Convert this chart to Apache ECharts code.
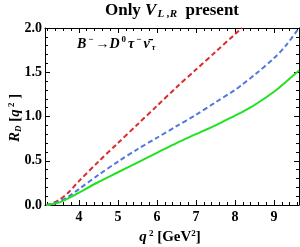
<!DOCTYPE html>
<html><head><meta charset="utf-8">
<script src="https://cdn.jsdelivr.net/npm/echarts@6/dist/echarts.min.js"></script>
<style>html,body{margin:0;padding:0;background:#fff}#c{width:300px;height:247px}</style>
</head><body><div id="c"></div>
<script>
const q2 = [3.16, 3.3, 3.5, 3.75, 4, 4.5, 5, 5.5, 6, 6.5, 7, 7.5, 8, 8.18, 8.5, 9, 9.3, 9.64];
const redVals   = [0, 0.015, 0.06, 0.15, 0.27, 0.49, 0.70, 0.91, 1.12, 1.33, 1.53, 1.73, 1.93, 2.0, null, null, null, null];
const blueVals  = [0, 0.01, 0.04, 0.10, 0.18, 0.34, 0.49, 0.63, 0.76, 0.89, 1.02, 1.16, 1.30, 1.36, 1.47, 1.66, 1.80, 2.0];
const greenVals = [0, 0.008, 0.03, 0.08, 0.14, 0.26, 0.37, 0.48, 0.59, 0.70, 0.80, 0.90, 1.01, 1.05, 1.13, 1.28, 1.39, 1.52];
const xTicks = [4, 5, 6, 7, 8, 9];
const yTicks = [0.0, 0.5, 1.0, 1.5, 2.0];
const xMin = 3.13, xMax = 9.64;

const minorX = [];
for (let v = 3.2; v <= xMax + 1e-9; v += 0.2) {
  const r = Math.round(v * 10) / 10;
  if (Math.abs(r - Math.round(r)) > 1e-6) minorX.push(r);
}
function pairs(vals) { const o = []; q2.forEach((x, i) => { if (vals[i] !== null) o.push([x, vals[i]]); }); return o; }

const font = 'Liberation Serif';
const chart = echarts.init(document.getElementById('c'), null, {renderer: 'canvas'});
const baseX = (pos, show, custom, len, label) => ({
  type: 'value', min: xMin, max: xMax, position: pos,
  axisLine: {show: show, lineStyle: {color: '#000', width: 1}},
  splitLine: {show: false},
  axisTick: {show: true, inside: true, length: len, customValues: custom, lineStyle: {color: '#000', width: 1}},
  axisLabel: label ? {show: true, customValues: xTicks, fontFamily: font, fontWeight: 'bold', fontSize: 14, color: '#000', margin: 5, formatter: v => String(v)} : {show: false}
});
const baseY = (pos, label) => ({
  type: 'value', min: 0, max: 2, interval: 0.5, position: pos,
  axisLine: {show: true, lineStyle: {color: '#000', width: 1}},
  splitLine: {show: false},
  axisTick: {show: true, inside: true, length: 5, lineStyle: {color: '#000'}},
  minorTick: {show: true, splitNumber: 5, length: 3, lineStyle: {color: '#000'}},
  axisLabel: label ? {show: true, fontFamily: font, fontWeight: 'bold', fontSize: 14, color: '#000', margin: 3, formatter: v => v.toFixed(1)} : {show: false}
});
chart.setOption({
  animation: false,
  backgroundColor: '#fff',
  grid: {left: 45, right: 1, top: 28, bottom: 42, containLabel: false},
  xAxis: [
    baseX('bottom', true, xTicks, 5, true),
    baseX('bottom', false, minorX, 3, false),
    baseX('top', true, xTicks, 5, false),
    baseX('top', false, minorX, 3, false)
  ],
  yAxis: [ baseY('left', true), baseY('right', false) ],
  series: [
    {type: 'line', data: pairs(redVals), smooth: 0.3, symbol: 'none', lineStyle: {color: '#dd2a2a', width: 2, type: [5, 3]}},
    {type: 'line', data: pairs(blueVals), smooth: 0.3, symbol: 'none', lineStyle: {color: '#4f78e0', width: 2, type: [5, 3]}},
    {type: 'line', data: pairs(greenVals), smooth: 0.3, symbol: 'none', lineStyle: {color: '#22e022', width: 2}}
  ],
  graphic: [
    {type: 'text', x: 172, y: 11, style: {
      text: '{b|Only }{i|V}{s|L ,R}{b|  present}', textAlign: 'center', textVerticalAlign: 'middle',
      rich: {
        b: {fontFamily: font, fontWeight: 'bold', fontSize: 17, fill: '#000'},
        i: {fontFamily: font, fontWeight: 'bold', fontStyle: 'italic', fontSize: 17, fill: '#000'},
        s: {fontFamily: font, fontWeight: 'bold', fontStyle: 'italic', fontSize: 11, fill: '#000', padding: [7, 0, 0, 1]}
      }}},
    {type: 'text', x: 77, y: 44, style: {
      text: '{m|B}{p|−}{m|→D}{p|0}{m|τ}{p|−}{m|ν̄}{q|τ}', textVerticalAlign: 'middle',
      rich: {
        m: {fontFamily: font, fontWeight: 'bold', fontStyle: 'italic', fontSize: 14, fill: '#000'},
        p: {fontFamily: font, fontWeight: 'bold', fontSize: 9, fill: '#000', padding: [0, 2, 8, 2]},
        q: {fontFamily: font, fontWeight: 'bold', fontStyle: 'italic', fontSize: 8, fill: '#000', padding: [7, 0, 0, 2]}
      }}},
    {type: 'text', x: 15, y: 118, rotation: Math.PI / 2, style: {
      text: '{m|R}{s|D}{b| [}{m|q}{p| 2}{b| ]}', textAlign: 'center', textVerticalAlign: 'middle',
      rich: {
        m: {fontFamily: font, fontWeight: 'bold', fontStyle: 'italic', fontSize: 15, fill: '#000'},
        s: {fontFamily: font, fontWeight: 'bold', fontStyle: 'italic', fontSize: 9, fill: '#000', padding: [7, 0, 0, 0]},
        b: {fontFamily: font, fontWeight: 'bold', fontSize: 15, fill: '#000'},
        p: {fontFamily: font, fontWeight: 'bold', fontSize: 9, fill: '#000', padding: [0, 0, 7, 0]}
      }}},
    {type: 'text', x: 170, y: 237, style: {
      text: '{m|q}{p| 2}{b| [GeV}{p|2}{b|]}', textAlign: 'center', textVerticalAlign: 'middle',
      rich: {
        m: {fontFamily: font, fontWeight: 'bold', fontStyle: 'italic', fontSize: 15, fill: '#000'},
        b: {fontFamily: font, fontWeight: 'bold', fontSize: 15, fill: '#000'},
        p: {fontFamily: font, fontWeight: 'bold', fontSize: 9, fill: '#000', padding: [0, 0, 7, 0]}
      }}}
  ]
});
</script></body></html>
